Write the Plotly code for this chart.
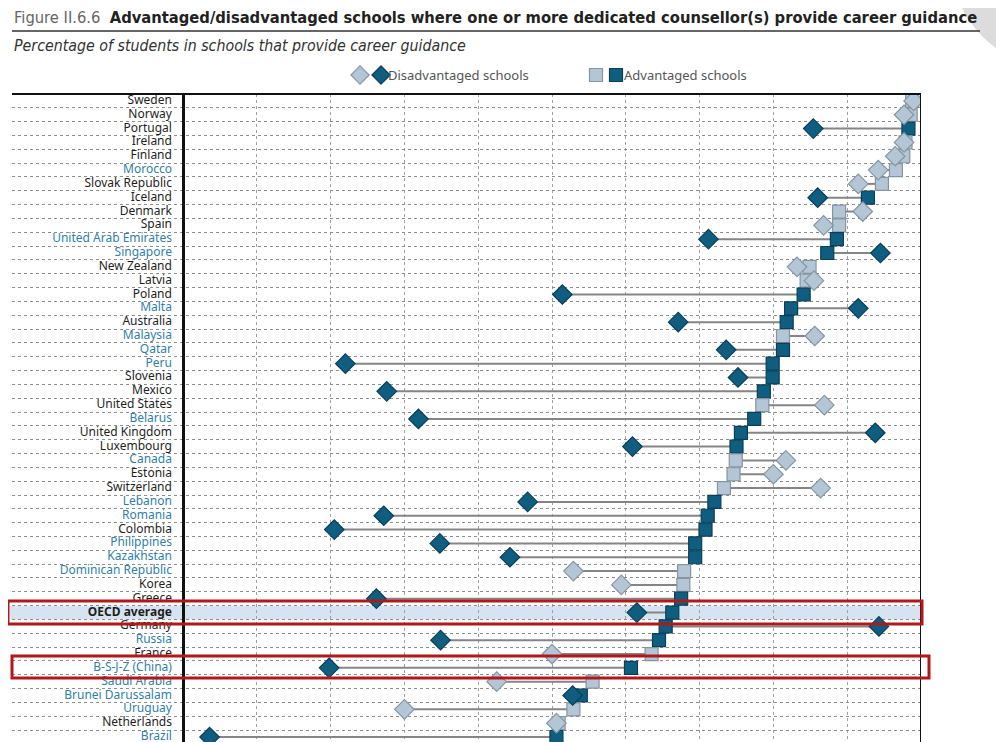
import plotly.graph_objects as go

""" Data read from the figure """
countries = [
    "Sweden", "Norway", "Portugal", "Ireland", "Finland", "Morocco",
    "Slovak Republic", "Iceland", "Denmark", "Spain", "United Arab Emirates",
    "Singapore", "New Zealand", "Latvia", "Poland", "Malta", "Australia",
    "Malaysia", "Qatar", "Peru", "Slovenia", "Mexico", "United States",
    "Belarus", "United Kingdom", "Luxembourg", "Canada", "Estonia",
    "Switzerland", "Lebanon", "Romania", "Colombia", "Philippines",
    "Kazakhstan", "Dominican Republic", "Korea", "Greece", "OECD average",
    "Germany", "Russia", "France", "B-S-J-Z (China)", "Saudi Arabia",
    "Brunei Darussalam", "Uruguay", "Netherlands", "Brazil",
]
disadvantaged = [
    99.0, 97.7, 85.4, 97.7, 96.5, 94.2, 91.5, 86.0, 92.1, 86.8, 71.2,
    94.5, 83.2, 85.5, 51.4, 91.5, 67.1, 85.6, 73.6, 22.0, 75.2, 27.6,
    86.9, 31.9, 93.8, 60.9, 81.7, 80.0, 86.4, 46.7, 27.2, 20.5, 34.8,
    44.3, 52.9, 59.4, 26.2, 61.5, 94.3, 34.9, 50.0, 19.8, 42.5, 52.8,
    30.0, 50.6, 3.6,
]
advantaged = [
    98.8, 98.6, 98.3, 97.9, 97.6, 96.6, 94.7, 92.8, 88.9, 88.9, 88.6,
    87.3, 84.9, 84.5, 84.1, 82.4, 81.8, 81.3, 81.3, 79.9, 79.9, 78.7,
    78.5, 77.4, 75.6, 75.0, 74.9, 74.6, 73.3, 72.0, 71.1, 70.8, 69.4,
    69.4, 67.9, 67.8, 67.5, 66.3, 65.4, 64.5, 63.5, 60.7, 55.5, 53.9,
    52.9, 50.9, 50.6,
]
# dark markers = difference is significant
significant = [
    False, False, True, False, False, False, False, True, False, False, True,
    True, False, False, True, True, True, False, True, True, True, True,
    False, True, True, True, False, False, False, True, True, True, True,
    True, False, False, True, True, True, True, False, True, False, True,
    False, False, True,
]
# partner economies get the blue label
partner = [
    False, False, False, False, False, True, False, False, False, False, True,
    True, False, False, False, True, False, True, True, True, False, False,
    False, True, False, False, True, False, False, True, True, False, True,
    True, True, False, False, False, False, True, False, True, True, True,
    True, False, True,
]

DARK = "#0f5e80"
DARK_EDGE = "#0a3f57"
LIGHT = "#b4c6d5"
LIGHT_EDGE = "#8595a1"
NARROW = "Liberation Sans Narrow, DejaVu Sans Condensed, Roboto, sans-serif"
rows = list(range(len(countries)))

# the page body adds 8px, so the figure covers reference pixels 8..1004 / 8..742
OFF = 8
W, H = 1004 - OFF, 742 - OFF
px_left, px_axis0, px_right, px_top = 12, 183, 921, 94
x_per_px = 100 / (px_right - px_axis0)
x_min = -(px_axis0 - px_left) * x_per_px
y_bottom = len(countries) - 1 + 5 / 13.83
row_h = (742 - px_top) / (y_bottom + 0.5)


def py(p):
    """ reference pixel from top -> paper y """
    return 1 - (p - OFF) / H


def px(p):
    return (p - OFF) / W


def row_at(p):
    return (p - px_top) / row_h - 0.5


fig = go.Figure()

# connecting lines
line_x, line_y = [], []
for r, d, a in zip(rows, disadvantaged, advantaged):
    line_x += [d, a, None]
    line_y += [r, r, None]
fig.add_trace(go.Scatter(x=line_x, y=line_y, mode="lines",
                         line=dict(color="#858585", width=2),
                         hoverinfo="skip", showlegend=False))

fig.add_trace(go.Scatter(
    x=advantaged, y=rows, mode="markers", name="Advantaged schools",
    marker=dict(symbol="square", size=13,
                color=[DARK if s else LIGHT for s in significant],
                line=dict(color=[DARK_EDGE if s else LIGHT_EDGE for s in significant], width=1.2)),
    showlegend=False))
fig.add_trace(go.Scatter(
    x=disadvantaged, y=rows, mode="markers", name="Disadvantaged schools",
    marker=dict(symbol="diamond", size=15,
                color=[DARK if s else LIGHT for s in significant],
                line=dict(color=[DARK_EDGE if s else LIGHT_EDGE for s in significant], width=1.2)),
    showlegend=False))

# country labels
labels = ["<b>%s</b>" % c if c == "OECD average" else c for c in countries]
fig.add_trace(go.Scatter(
    x=[-1.5] * len(countries), y=rows, mode="text", text=labels,
    textposition="middle left",
    textfont=dict(family="Noto Sans", size=12,
                  color=["#2f7fa8" if p else "#1e1e1e" for p in partner]),
    hoverinfo="skip", showlegend=False))

# legend keys on a small overlay axis (reference pixel positions)
fig.add_trace(go.Scatter(
    x=[360, 381], y=[0.5, 0.5], xaxis="x2", yaxis="y2", mode="markers",
    marker=dict(symbol="diamond", size=14, color=[LIGHT, DARK],
                line=dict(color=[LIGHT_EDGE, DARK_EDGE], width=1.2)),
    hoverinfo="skip", showlegend=False))
fig.add_trace(go.Scatter(
    x=[596, 616], y=[0.5, 0.5], xaxis="x2", yaxis="y2", mode="markers",
    marker=dict(symbol="square", size=13, color=[LIGHT, DARK],
                line=dict(color=[LIGHT_EDGE, DARK_EDGE], width=1.2)),
    hoverinfo="skip", showlegend=False))

oecd_row = countries.index("OECD average")

shapes = [
    # grey corner blob
    dict(type="circle", xref="paper", yref="paper", layer="below",
         x0=px(951), x1=px(1169), y0=py(69), y1=py(-149),
         fillcolor="#dcdcdc", line=dict(width=0)),
    # OECD average band
    dict(type="rect", xref="paper", yref="y", layer="below",
         x0=px(10), x1=px(px_right), y0=oecd_row - 0.5, y1=oecd_row + 0.5,
         fillcolor="#d5e4f0", line=dict(width=0)),
    # title rule
    dict(type="line", xref="paper", yref="paper", x0=px(12), x1=px(980),
         y0=py(31), y1=py(31), line=dict(color="#333333", width=1.5)),
    # frame top and right
    dict(type="line", xref="paper", yref="paper", x0=px(px_left), x1=px(px_right),
         y0=py(px_top), y1=py(px_top), line=dict(color="#111111", width=2)),
    dict(type="line", xref="x", yref="paper", x0=100, x1=100,
         y0=0, y1=py(px_top), line=dict(color="#111111", width=2)),
    # red highlight boxes
    dict(type="rect", xref="paper", yref="y", x0=px(8), x1=px(922),
         y0=row_at(601), y1=row_at(624), line=dict(color="#b0181c", width=3)),
    dict(type="rect", xref="paper", yref="y", x0=px(12), x1=px(929),
         y0=row_at(656), y1=row_at(678), line=dict(color="#b0181c", width=3)),
]

annotations = [
    dict(xref="paper", yref="paper", x=px(12), y=py(18), xanchor="left", yanchor="middle",
         showarrow=False,
         text="<span style='color:#666666'>Figure II.6.6</span>  "
              "<b>Advantaged/disadvantaged schools where one or more dedicated "
              "counsellor(s) provide career guidance</b>",
         font=dict(family=NARROW, size=16.4, color="#222222")),
    dict(xref="paper", yref="paper", x=px(12), y=py(45), xanchor="left", yanchor="middle",
         showarrow=False,
         text="<i>Percentage of students in schools that provide career guidance</i>",
         font=dict(family=NARROW, size=15.8, color="#333333")),
    dict(xref="paper", yref="paper", x=px(386), y=py(75), xanchor="left", yanchor="middle",
         showarrow=False, text="Disadvantaged schools",
         font=dict(family="Noto Sans", size=13, color="#555555")),
    dict(xref="paper", yref="paper", x=px(622), y=py(75), xanchor="left", yanchor="middle",
         showarrow=False, text="Advantaged schools",
         font=dict(family="Noto Sans", size=13, color="#555555")),
]

fig.update_layout(
    width=W, height=H,
    margin=dict(l=0, r=0, t=0, b=0),
    paper_bgcolor="white", plot_bgcolor="white",
    shapes=shapes, annotations=annotations,
    xaxis=dict(domain=[px(px_left), px(px_right)], range=[x_min, 100],
               tickvals=list(range(10, 100, 10)), showticklabels=False, ticks="",
               showgrid=True, gridcolor="#a0a0a0", griddash="dot", gridwidth=1,
               zeroline=True, zerolinecolor="#111111", zerolinewidth=2.5,
               showline=False, fixedrange=True),
    yaxis=dict(domain=[0, py(px_top)], range=[y_bottom, -0.5],
               tickvals=[r - 0.5 for r in range(len(countries) + 1)],
               showticklabels=False, ticks="",
               showgrid=True, gridcolor="#8c8c8c", griddash="dot", gridwidth=1,
               zeroline=False, showline=False, fixedrange=True),
    xaxis2=dict(domain=[0, 1], range=[OFF, 1004], anchor="y2", visible=False),
    yaxis2=dict(domain=[py(85), py(65)], range=[0, 1], anchor="x2", visible=False),
)

fig.write_html("out.html")
